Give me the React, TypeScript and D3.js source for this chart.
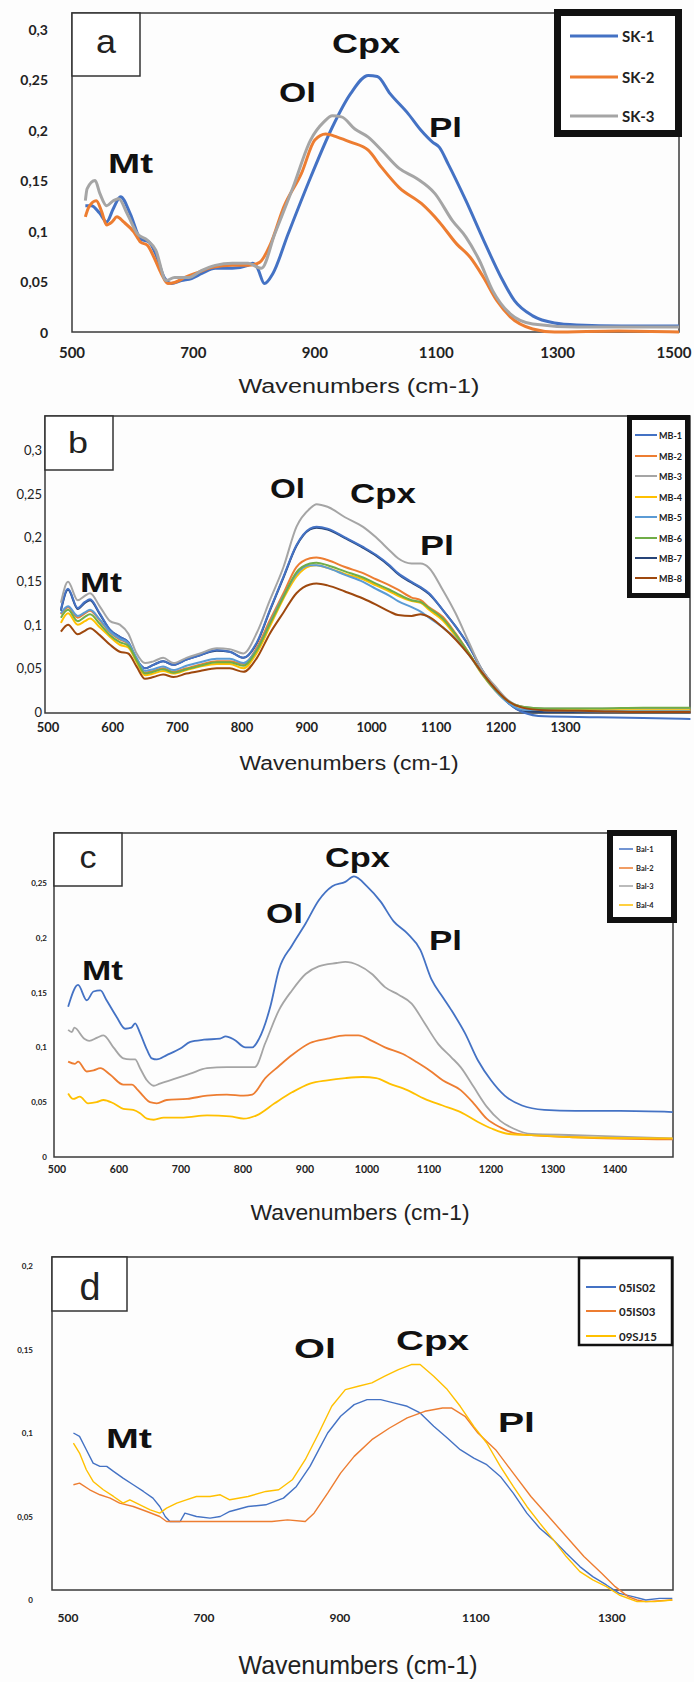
import React from 'react';
import * as d3 from 'd3';

type Pt = [number, number];

// ---- panel a : SK samples (wavenumber, absorbance)
const SK1: Pt[] = [[522,.125],[532,.125],[545,.118],[557,.109],[568,.122],[580,.134],[596,.117],[613,.092],[627,.089],[638,.077],[652,.054],[664,.048],[680,.051],[697,.053],[714,.058],[736,.063],[764,.063],[790,.066],[798,.068],[805,.064],[817,.048],[831,.058],[856,.097],[893,.153],[929,.203],[959,.236],[988,.254],[1003,.253],[1024,.236],[1054,.216],[1076,.199],[1094,.188],[1105,.183],[1120,.166],[1149,.130],[1178,.091],[1207,.054],[1229,.031],[1259,.016],[1295,.009],[1332,.007],[1405,.006],[1500,.006]];
const SK2: Pt[] = [[522,.114],[528,.124],[540,.130],[549,.119],[557,.106],[566,.109],[574,.114],[585,.109],[602,.099],[613,.089],[624,.086],[635,.074],[647,.058],[658,.048],[669,.049],[686,.054],[708,.059],[731,.064],[764,.066],[790,.066],[809,.069],[827,.087],[849,.124],[878,.157],[900,.190],[918,.196],[937,.193],[959,.188],[988,.180],[1010,.163],[1039,.143],[1076,.127],[1105,.109],[1134,.087],[1156,.074],[1178,.054],[1200,.031],[1222,.015],[1259,.003],[1295,0],[1400,.001],[1500,0]];
const SK3: Pt[] = [[522,.130],[525,.142],[538,.150],[546,.137],[557,.125],[568,.130],[577,.132],[591,.117],[608,.097],[624,.091],[638,.081],[655,.051],[669,.054],[692,.054],[714,.061],[736,.066],[764,.068],[790,.068],[812,.063],[834,.097],[864,.143],[893,.190],[915,.208],[929,.214],[944,.213],[966,.201],[988,.193],[1010,.180],[1039,.162],[1068,.152],[1098,.137],[1127,.110],[1149,.094],[1171,.071],[1193,.041],[1222,.018],[1259,.008],[1332,.005],[1500,.005]];

// ---- panel b : MB samples on a shared wavenumber grid
const WN_B = [520,531,546,557,565,580,596,611,624,637,650,663,678,694,714,735,761,781,802,823,843,864,884,905,915,932,959,987,1007,1028,1041,1062,1076,1089,1110,1130,1151,1171,1192,1212,1233,1267,1350,1420,1493];
const MB1 = [.117,.141,.119,.126,.129,.113,.094,.086,.080,.060,.050,.054,.058,.054,.060,.065,.071,.069,.062,.080,.117,.155,.191,.210,.212,.210,.200,.189,.180,.168,.159,.149,.143,.136,.117,.098,.075,.048,.027,.010,.000,-.005,-.006,-.007,-.008];
const MB2 = [.112,.120,.108,.113,.116,.105,.091,.083,.078,.060,.045,.047,.050,.046,.050,.054,.058,.058,.055,.074,.105,.136,.166,.176,.177,.174,.166,.159,.152,.145,.140,.131,.128,.120,.109,.090,.067,.044,.025,.012,.006,.002,.001,.001,.001];
const MB3 = [.125,.149,.128,.133,.136,.121,.104,.100,.090,.067,.056,.058,.062,.056,.062,.067,.073,.072,.067,.091,.128,.166,.212,.233,.238,.235,.223,.212,.200,.185,.176,.170,.170,.165,.140,.113,.079,.048,.029,.013,.006,.004,.004,.004,.004];
const MB4 = [.102,.113,.100,.104,.107,.097,.086,.077,.074,.057,.042,.044,.047,.044,.048,.052,.055,.055,.050,.068,.098,.130,.155,.167,.168,.165,.158,.152,.145,.138,.133,.127,.125,.117,.105,.087,.066,.043,.024,.011,.005,.003,.002,.002,.002];
const MB5 = [.113,.121,.110,.114,.117,.106,.092,.084,.079,.062,.047,.049,.052,.048,.053,.057,.061,.061,.056,.072,.102,.133,.158,.168,.168,.165,.157,.149,.141,.133,.127,.120,.115,.108,.097,.084,.065,.044,.024,.010,.003,.002,.001,.001,.001];
const MB6 = [.108,.117,.104,.109,.112,.101,.088,.080,.076,.059,.044,.046,.049,.045,.049,.053,.057,.057,.053,.071,.101,.132,.160,.170,.171,.168,.161,.154,.147,.140,.135,.128,.126,.119,.107,.089,.067,.044,.025,.012,.006,.004,.004,.005,.005];
const MB7 = [.116,.140,.118,.125,.128,.112,.094,.086,.080,.060,.050,.054,.058,.054,.060,.065,.070,.069,.062,.079,.116,.154,.190,.209,.211,.209,.199,.188,.179,.167,.158,.148,.142,.135,.117,.098,.075,.048,.027,.010,.001,.000,.000,.001,.001];
const MB8 = [.092,.100,.089,.093,.096,.088,.077,.069,.067,.052,.038,.040,.043,.040,.044,.047,.050,.050,.046,.062,.090,.114,.136,.146,.147,.145,.138,.130,.123,.115,.111,.110,.112,.109,.097,.083,.065,.045,.026,.012,.005,.002,.001,0,0];

// ---- panel c : Bal samples
const BAL1: Pt[] = [[518,.137],[534,.157],[548,.143],[559,.151],[570,.152],[580,.143],[596,.128],[610,.117],[620,.118],[626,.122],[634,.113],[645,.098],[653,.090],[661,.089],[677,.093],[699,.099],[715,.105],[737,.107],[763,.108],[772,.110],[786,.107],[804,.100],[815,.100],[826,.108],[844,.137],[858,.171],[879,.193],[901,.213],[922,.234],[944,.247],[965,.251],[979,.256],[1000,.247],[1022,.233],[1043,.215],[1065,.204],[1086,.189],[1104,.162],[1122,.146],[1136,.134],[1158,.113],[1179,.088],[1200,.070],[1222,.056],[1250,.047],[1286,.043],[1336,.042],[1408,.042],[1493,.041]];
const BAL2: Pt[] = [[518,.087],[529,.085],[534,.087],[548,.078],[559,.079],[570,.081],[586,.075],[607,.066],[621,.066],[629,.062],[640,.055],[650,.050],[661,.049],[677,.052],[710,.053],[742,.056],[774,.057],[801,.056],[815,.057],[836,.072],[858,.083],[879,.093],[908,.104],[936,.108],[965,.111],[986,.111],[1008,.106],[1029,.100],[1058,.094],[1079,.087],[1101,.079],[1122,.070],[1151,.061],[1172,.049],[1193,.035],[1215,.027],[1243,.021],[1265,.020],[1336,.018],[1493,.016]];
const BAL3: Pt[] = [[518,.116],[524,.114],[528,.118],[544,.108],[552,.106],[565,.109],[575,.111],[591,.100],[607,.090],[618,.089],[626,.089],[634,.081],[645,.070],[656,.065],[666,.067],[688,.071],[715,.076],[742,.081],[774,.082],[801,.082],[819,.082],[836,.104],[858,.134],[879,.152],[901,.167],[922,.174],[951,.177],[965,.178],[986,.175],[1008,.167],[1029,.155],[1051,.148],[1072,.140],[1093,.122],[1115,.103],[1136,.091],[1151,.082],[1172,.064],[1193,.046],[1215,.033],[1236,.026],[1265,.021],[1336,.020],[1493,.017]];
const BAL4: Pt[] = [[518,.058],[526,.053],[537,.055],[550,.049],[564,.050],[575,.052],[591,.049],[607,.044],[623,.043],[634,.040],[645,.035],[656,.034],[672,.036],[704,.036],[742,.038],[779,.037],[801,.035],[822,.038],[851,.049],[879,.059],[908,.067],[936,.070],[965,.072],[993,.073],[1015,.072],[1036,.067],[1065,.061],[1093,.053],[1122,.047],[1151,.041],[1179,.032],[1201,.026],[1229,.021],[1265,.020],[1336,.018],[1493,.017]];

// ---- panel d
const IS02: Pt[] = [[508,.100],[517,.098],[527,.090],[537,.082],[547,.080],[557,.080],[567,.077],[581,.073],[596,.069],[611,.065],[625,.061],[635,.056],[643,.050],[650,.047],[665,.047],[672,.052],[689,.050],[709,.049],[724,.050],[738,.053],[765,.056],[791,.057],[817,.061],[836,.068],[856,.080],[869,.090],[882,.100],[901,.110],[921,.117],[940,.120],[960,.120],[979,.118],[999,.116],[1018,.112],[1038,.104],[1058,.097],[1077,.090],[1097,.085],[1116,.081],[1136,.074],[1155,.064],[1175,.052],[1194,.043],[1214,.036],[1233,.028],[1253,.020],[1272,.014],[1292,.009],[1311,.004],[1331,.002],[1350,.000],[1370,.001],[1389,.001]];
const IS03: Pt[] = [[508,.069],[517,.070],[532,.066],[547,.063],[562,.061],[576,.058],[596,.056],[616,.053],[635,.050],[645,.047],[665,.047],[694,.047],[714,.047],[724,.047],[760,.047],[800,.047],[823,.048],[849,.047],[862,.052],[882,.064],[901,.076],[921,.086],[947,.096],[973,.103],[999,.109],[1025,.113],[1051,.115],[1064,.115],[1084,.110],[1103,.100],[1129,.090],[1155,.076],[1181,.062],[1207,.050],[1233,.038],[1259,.026],[1285,.016],[1305,.008],[1324,.002],[1337,.000],[1350,-.001],[1389,.000]];
const SJ15: Pt[] = [[508,.094],[517,.088],[527,.078],[537,.071],[552,.066],[567,.062],[581,.058],[591,.060],[606,.057],[621,.054],[635,.052],[645,.055],[660,.058],[674,.060],[689,.062],[709,.062],[724,.063],[738,.060],[765,.062],[791,.065],[810,.066],[830,.072],[849,.084],[869,.100],[888,.116],[908,.126],[927,.128],[947,.130],[966,.134],[986,.138],[1005,.141],[1018,.141],[1038,.134],[1058,.126],[1077,.116],[1097,.104],[1116,.094],[1136,.080],[1155,.068],[1175,.056],[1194,.046],[1214,.036],[1233,.026],[1253,.017],[1272,.012],[1292,.008],[1311,.003],[1337,-.001],[1363,-.001],[1389,.000]];

// ---- ticks
const Y_TICKS_AB = [0, 0.05, 0.1, 0.15, 0.2, 0.25, 0.3];
const Y_TICKS_C = [0, 0.05, 0.1, 0.15, 0.2, 0.25];
const Y_TICKS_D = [0, 0.05, 0.1, 0.15, 0.2];
const X_TICKS_A = [500, 700, 900, 1100, 1300, 1500];
const X_TICKS_B = [500, 600, 700, 800, 900, 1000, 1100, 1200, 1300];
const X_TICKS_C = [500, 600, 700, 800, 900, 1000, 1100, 1200, 1300, 1400];
const X_TICKS_D = [500, 700, 900, 1100, 1300];

const AXIS_TITLE = 'Wavenumbers (cm-1)';

const C = {
  blue: '#4472C4', orange: '#ED7D31', gray: '#A5A5A5', gold: '#FFC000',
  lblue: '#5B9BD5', green: '#70AD47', navy: '#264478', brown: '#9E480E',
};

const fmt = d3.formatLocale({ decimal: ',', thousands: '.', grouping: [3], currency: ['', ''] }).format('~g');
const zipB = (v: number[]): Pt[] => d3.zip(WN_B, v) as Pt[];

const PANELS = [
  {
    letter: 'a', frame: { l: 72, t: 13, r: 679, b: 332 }, xDomain: [500, 1500], zeroY: 332, refY: 29, refV: 0.3,
    series: [{ name: 'SK-1', data: SK1, color: C.blue }, { name: 'SK-2', data: SK2, color: C.orange }, { name: 'SK-3', data: SK3, color: C.gray }],
    lw: 3, curve: d3.curveMonotoneX,
    box: { x: 72, y: 13, w: 68, h: 63, tx: 106, ty: 53, fs: 34, tl: 20 },
    yTicks: Y_TICKS_AB, yTickX: 48, yTickFont: { size: 14, weight: 700 },
    xTicks: X_TICKS_A, xTickY: 358, xTickFont: { size: 15, weight: 700 }, xTickMax: 674,
    title: { x: 359, y: 393, w: 241, fs: 20 },
    notes: [['Mt', 108, 173, 45], ['Ol', 279, 102, 37], ['Cpx', 332, 53, 68], ['Pl', 429, 137, 33]],
    legend: { x: 557.5, y: 12.5, w: 121, h: 121, sw: 7, x1: 570, x2: 618, tx: 622, ys: [36, 77, 116], fs: 15, lw: 3 },
  },
  {
    letter: 'b', frame: { l: 45, t: 416, r: 690, b: 713 }, xDomain: [495.4, 1492.3], zeroY: 712, refY: 450, refV: 0.3,
    series: [
      { name: 'MB-1', data: zipB(MB1), color: C.blue }, { name: 'MB-2', data: zipB(MB2), color: C.orange },
      { name: 'MB-3', data: zipB(MB3), color: C.gray }, { name: 'MB-4', data: zipB(MB4), color: C.gold },
      { name: 'MB-5', data: zipB(MB5), color: C.lblue }, { name: 'MB-6', data: zipB(MB6), color: C.green },
      { name: 'MB-7', data: zipB(MB7), color: C.navy, under: true }, { name: 'MB-8', data: zipB(MB8), color: C.brown },
    ],
    lw: 2, curve: d3.curveMonotoneX,
    box: { x: 45, y: 416, w: 68, h: 54, tx: 78, ty: 453, fs: 29, tl: 20 },
    yTicks: Y_TICKS_AB, yTickX: 42, yTickFont: { size: 13, weight: 400 },
    xTicks: X_TICKS_B, xTickY: 732, xTickFont: { size: 13, weight: 700 },
    title: { x: 349, y: 770, w: 219, fs: 20 },
    notes: [['Mt', 80, 592, 42], ['Ol', 270, 498, 35], ['Cpx', 350, 503, 66], ['Pl', 420, 555, 34]],
    legend: { x: 629.5, y: 417.5, w: 58, h: 178, sw: 5, x1: 635, x2: 657, tx: 659, ys: [435, 456, 476, 497, 517, 538, 558, 578], fs: 9, lw: 2 },
  },
  {
    letter: 'c', frame: { l: 54, t: 833, r: 673, b: 1157 }, xDomain: [495.2, 1493.5], zeroY: 1157, refY: 883, refV: 0.25,
    series: [{ name: 'Bal-1', data: BAL1, color: C.blue }, { name: 'Bal-2', data: BAL2, color: C.orange }, { name: 'Bal-3', data: BAL3, color: C.gray }, { name: 'Bal-4', data: BAL4, color: C.gold }],
    lw: 1.8, curve: d3.curveMonotoneX,
    box: { x: 54, y: 833, w: 68, h: 53, tx: 88, ty: 868, fs: 31, tl: 17 },
    yTicks: Y_TICKS_C, yTickX: 47, yTickFont: { size: 8, weight: 700 },
    xTicks: X_TICKS_C, xTickY: 1173, xTickFont: { size: 10.5, weight: 700 },
    title: { x: 360, y: 1220, w: 219, fs: 22 },
    notes: [['Mt', 82, 980, 41], ['Ol', 266, 923, 37], ['Cpx', 325, 867, 65], ['Pl', 429, 950, 33]],
    legend: { x: 610, y: 833, w: 64, h: 87, sw: 6, x1: 619, x2: 633, tx: 636, ys: [849, 868, 886, 905], fs: 7.5, lw: 1.5 },
  },
  {
    letter: 'd', frame: { l: 52, t: 1257, r: 673, b: 1590 }, xDomain: [476.5, 1390], zeroY: 1600, refY: 1266, refV: 0.2,
    series: [{ name: '05IS02', data: IS02, color: C.blue }, { name: '05IS03', data: IS03, color: C.orange }, { name: '09SJ15', data: SJ15, color: C.gold }],
    lw: 1.4, curve: d3.curveLinear,
    box: { x: 52, y: 1257, w: 75, h: 54, tx: 90, ty: 1300, fs: 38, tl: 21 },
    yTicks: Y_TICKS_D, yTickX: 33, yTickFont: { size: 8, weight: 700 },
    xTicks: X_TICKS_D, xTickY: 1622, xTickFont: { size: 12, weight: 700 },
    title: { x: 358, y: 1674, w: 239, fs: 26 },
    notes: [['Mt', 106, 1448, 46], ['Ol', 294, 1358, 42], ['Cpx', 396, 1350, 73], ['Pl', 498, 1432, 37]],
    legend: { x: 579, y: 1258, w: 93, h: 87, sw: 2.5, x1: 586, x2: 616, tx: 619, ys: [1287, 1311, 1336], fs: 11.5, lw: 2 },
  },
];

const TICK_FONT = 'Lato, "Open Sans", sans-serif';
const LABEL_FONT = '"Liberation Sans", Arial, sans-serif';

function Panel({ p }: { p: any }) {
  const { frame } = p;
  const x = d3.scaleLinear().domain(p.xDomain).range([frame.l, frame.r]);
  const y = d3.scaleLinear().domain([0, p.refV]).range([p.zeroY, p.refY]);
  const line = d3.line<Pt>().x(d => x(d[0])).y(d => y(d[1])).curve(p.curve);
  const lg = p.legend;
  // series flagged "under" are painted first so they sit below the others
  const drawOrder = [...p.series.filter((s: any) => s.under), ...p.series.filter((s: any) => !s.under)];

  return (
    <g>
      <rect x={frame.l} y={frame.t} width={frame.r - frame.l} height={frame.b - frame.t}
        fill="none" stroke="#3a3a3a" strokeWidth={1.5} />

      {drawOrder.map((s: any) => (
        <path key={s.name} d={line(s.data) || ''} fill="none" stroke={s.color}
          strokeWidth={p.lw} strokeLinejoin="round" />
      ))}

      {p.yTicks.map((v: number) => (
        <text key={'y' + v} x={p.yTickX} y={y(v)} textAnchor="end" dominantBaseline="central"
          fontFamily={TICK_FONT} fontSize={p.yTickFont.size} fontWeight={p.yTickFont.weight} fill="#222">
          {fmt(v)}
        </text>
      ))}
      {p.xTicks.map((v: number) => (
        <text key={'x' + v} x={Math.min(x(v), p.xTickMax ?? 694)} y={p.xTickY} textAnchor="middle"
          fontFamily={TICK_FONT} fontSize={p.xTickFont.size} fontWeight={p.xTickFont.weight} fill="#222">
          {v}
        </text>
      ))}

      <text x={p.title.x} y={p.title.y} textAnchor="middle" fontFamily={LABEL_FONT}
        fontSize={p.title.fs} fill="#222" textLength={p.title.w} lengthAdjust="spacingAndGlyphs">
        {AXIS_TITLE}
      </text>

      <rect x={p.box.x} y={p.box.y} width={p.box.w} height={p.box.h} fill="#fff" stroke="#333" strokeWidth={1.5} />
      <text x={p.box.tx} y={p.box.ty} textAnchor="middle" fontFamily={LABEL_FONT} fontSize={p.box.fs}
        fill="#222" textLength={p.box.tl} lengthAdjust="spacingAndGlyphs">
        {p.letter}
      </text>

      {p.notes.map(([t, nx, ny, w]: [string, number, number, number]) => (
        <text key={t} x={nx} y={ny} fontFamily={LABEL_FONT} fontSize={28} fontWeight={700} fill="#111"
          textLength={w} lengthAdjust="spacingAndGlyphs">
          {t}
        </text>
      ))}

      <rect x={lg.x} y={lg.y} width={lg.w} height={lg.h} fill="#fff" stroke="#111" strokeWidth={lg.sw} />
      {p.series.map((s: any, i: number) => (
        <g key={'lg' + s.name}>
          <line x1={lg.x1} x2={lg.x2} y1={lg.ys[i]} y2={lg.ys[i]} stroke={s.color} strokeWidth={lg.lw} />
          <text x={lg.tx} y={lg.ys[i]} dominantBaseline="central" fontFamily={TICK_FONT}
            fontSize={lg.fs} fontWeight={700} fill="#222">
            {s.name}
          </text>
        </g>
      ))}
    </g>
  );
}

export default function App() {
  return (
    <svg width={694} height={1682} style={{ position: 'absolute', left: 0, top: 0, background: '#fff' }}>
      <rect width={694} height={1682} fill="#fdfdfd" />
      {PANELS.map(p => <Panel key={p.letter} p={p} />)}
    </svg>
  );
}
